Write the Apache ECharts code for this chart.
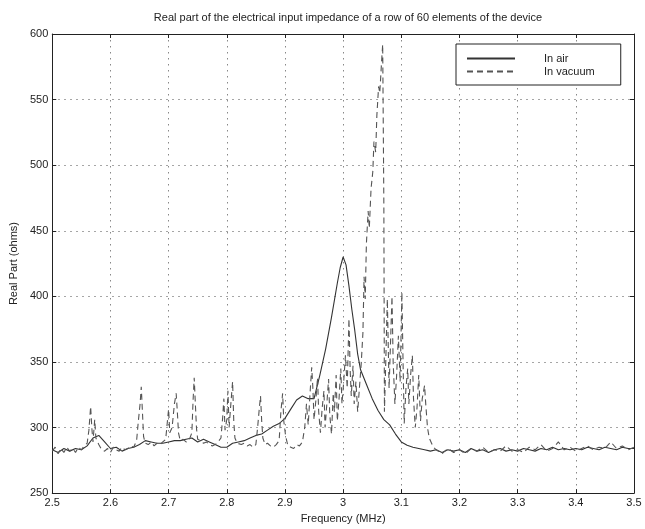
<!DOCTYPE html>
<html>
<head>
<meta charset="utf-8">
<script src="https://cdn.jsdelivr.net/npm/echarts@6/dist/echarts.min.js"></script>
<style>
    html, body { margin: 0; padding: 0; background: #fff; }
    #main { width: 645px; height: 529px; }
</style>
</head>
<body>
<div id="main"></div>
<script>
// In air (solid)
var airFreq = [2.50, 2.51, 2.52, 2.53, 2.54, 2.55, 2.56, 2.57, 2.58, 2.59,
    2.60, 2.61, 2.62, 2.63, 2.64, 2.65, 2.66, 2.67, 2.68, 2.69,
    2.70, 2.71, 2.72, 2.73, 2.74, 2.75, 2.76, 2.77, 2.78, 2.79,
    2.80, 2.81, 2.82, 2.83, 2.84, 2.85, 2.86, 2.87, 2.88, 2.89,
    2.90, 2.91, 2.92, 2.93, 2.94, 2.95, 2.96, 2.97, 2.98, 2.99, 2.995,
    3.00, 3.005, 3.01, 3.015, 3.02, 3.025, 3.03, 3.04, 3.05, 3.06, 3.07, 3.08, 3.09,
    3.10, 3.11, 3.12, 3.13, 3.14, 3.15, 3.16, 3.17, 3.18, 3.19,
    3.20, 3.21, 3.22, 3.23, 3.24, 3.25, 3.26, 3.27, 3.28, 3.29,
    3.30, 3.31, 3.32, 3.33, 3.34, 3.35, 3.36, 3.37, 3.38, 3.39,
    3.40, 3.41, 3.42, 3.43, 3.44, 3.45, 3.46, 3.47, 3.48, 3.49, 3.50];
var airReal = [283, 281, 284, 282, 284, 283, 286, 292, 294, 289,
    284, 285, 282, 284, 285, 287, 290, 289, 288, 288,
    289, 290, 290, 291, 292, 289, 291, 289, 287, 285,
    285, 288, 289, 290, 292, 294, 295, 298, 301, 303,
    307, 314, 321, 324, 322, 322, 340, 360, 384, 410, 422,
    430, 424, 408, 390, 374, 356, 344, 333, 322, 313, 306, 302, 295,
    289, 286.5, 285, 284, 283, 282, 283, 281, 283, 282,
    283, 281, 284, 282, 283, 281, 283, 284, 282, 283,
    282, 284, 283, 282, 284, 283, 285, 283, 284, 283,
    284, 283, 285, 284, 283, 285, 284, 283, 285, 284, 284];

// In vacuum (dashed)
var vacFreq = [2.500, 2.505, 2.510, 2.515, 2.520, 2.525, 2.530, 2.535, 2.540, 2.545,
    2.550, 2.555, 2.560, 2.563, 2.566, 2.568, 2.570, 2.573, 2.575, 2.580,
    2.585, 2.590, 2.595, 2.600, 2.605, 2.610, 2.615, 2.620, 2.625, 2.630,
    2.635, 2.640, 2.645, 2.648, 2.651, 2.653, 2.655, 2.657, 2.660, 2.665,
    2.670, 2.675, 2.680, 2.685, 2.690, 2.695, 2.698, 2.700, 2.702, 2.706,
    2.710, 2.713, 2.715, 2.717, 2.720, 2.725, 2.730, 2.735, 2.740, 2.742,
    2.744, 2.746, 2.748, 2.750, 2.755, 2.760, 2.765, 2.770, 2.775, 2.780,
    2.785, 2.790, 2.793, 2.795, 2.797, 2.800, 2.802, 2.804, 2.807, 2.810,
    2.812, 2.814, 2.818, 2.825, 2.830, 2.835, 2.840, 2.845, 2.850, 2.853,
    2.856, 2.858, 2.860, 2.862, 2.866, 2.870, 2.875, 2.880, 2.885, 2.890,
    2.893, 2.896, 2.898, 2.901, 2.905, 2.910, 2.915, 2.920, 2.925, 2.930,
    2.934, 2.937, 2.940, 2.943, 2.946, 2.948, 2.950, 2.953, 2.956, 2.958,
    2.961, 2.964, 2.967, 2.969, 2.972, 2.975, 2.977, 2.980, 2.983, 2.985,
    2.988, 2.990, 2.993, 2.996, 2.998, 3.001, 3.004, 3.007, 3.010, 3.012,
    3.014, 3.017, 3.019, 3.022, 3.025, 3.028, 3.031, 3.034, 3.036, 3.038,
    3.040, 3.043, 3.045, 3.048, 3.051, 3.053, 3.056, 3.058, 3.061, 3.063,
    3.066, 3.068, 3.070, 3.071, 3.073, 3.076, 3.079, 3.082, 3.084, 3.086,
    3.089, 3.092, 3.095, 3.098, 3.101, 3.103, 3.105, 3.108, 3.111, 3.113,
    3.116, 3.119, 3.121, 3.124, 3.127, 3.130, 3.133, 3.136, 3.140, 3.142,
    3.145, 3.148, 3.152, 3.155, 3.16, 3.17, 3.18, 3.19, 3.20, 3.21,
    3.22, 3.23, 3.24, 3.25, 3.26, 3.27, 3.28, 3.29, 3.30, 3.31,
    3.32, 3.33, 3.34, 3.35, 3.36, 3.37, 3.38, 3.39, 3.40, 3.41,
    3.42, 3.43, 3.44, 3.45, 3.46, 3.47, 3.48, 3.49, 3.50];
var vacReal = [282, 285, 280, 284, 281, 285, 282, 284, 281, 285,
    283, 286, 288, 298, 316, 300, 289, 306, 292, 287,
    283, 282, 284, 281, 285, 283, 282, 285, 283, 284,
    286, 285, 290, 305, 318, 331, 312, 293, 288, 287,
    289, 286, 288, 287, 289, 291, 305, 314, 296, 300,
    318, 326, 312, 296, 290, 291, 289, 290, 296, 320,
    338, 318, 299, 291, 290, 288, 289, 287, 286, 287,
    289, 292, 308, 322, 298, 306, 328, 300, 318, 335,
    305, 292, 288, 287, 288, 286, 287, 285, 287, 300,
    315, 324, 305, 292, 287, 288, 286, 285, 287, 290,
    312, 326, 305, 294, 286, 285, 284, 287, 286, 289,
    300, 318, 302, 325, 346, 330, 306, 320, 338, 312,
    296, 315, 328, 300, 318, 337, 310, 295, 326, 312,
    340, 305, 322, 345, 318, 335, 355, 330, 383, 345,
    324, 347, 318, 335, 312, 330, 348, 372, 415, 398,
    440, 465, 452, 482, 495, 518, 510, 538, 560, 555,
    578, 592, 470, 312, 345, 398, 330, 372, 400, 350,
    318, 340, 370, 335, 403, 350, 303, 330, 345, 318,
    340, 355, 322, 300, 315, 340, 305, 322, 332, 318,
    300, 292, 288, 285, 283, 280, 284, 281, 283, 280,
    284, 282, 285, 281, 283, 282, 286, 282, 283, 281,
    285, 283, 287, 282, 284, 289, 283, 285, 282, 284,
    286, 283, 285, 284, 289, 284, 286, 283, 285];

var xTicks = { min: 2.5, max: 3.5, step: 0.1 };
var yTicks = { min: 250, max: 600, step: 50 };

function pairs(xs, ys) {
    var out = [];
    for (var i = 0; i < xs.length; i++) {
        out.push([xs[i], ys[i]]);
    }
    return out;
}

var font = 'Liberation Sans, Arial, Helvetica, sans-serif';
var axisColor = '#222';
var gridLine = { show: true, lineStyle: { color: '#888', type: [1.5, 4.5], width: 1 } };

var myChart = echarts.init(document.getElementById('main'));
var option = {
    animation: false,
    backgroundColor: '#fff',
    title: {
        text: 'Real part of the electrical input impedance of a row of 60 elements of the device',
        left: 343,
        textAlign: 'center',
        top: 7,
        textStyle: { fontFamily: font, fontSize: 11, fontWeight: 'normal', color: '#222' }
    },
    legend: {
        orient: 'vertical',
        left: 456,
        top: 44,
        padding: [9, 26, 8, 10],
        itemWidth: 48,
        itemHeight: 10,
        itemGap: 2,
        borderColor: '#222',
        borderWidth: 1,
        backgroundColor: '#fff',
        itemStyle: { opacity: 0 },
        textStyle: { fontFamily: font, fontSize: 11, color: '#222', padding: [0, 0, 0, 24] },
        data: ['In air', 'In vacuum']
    },
    grid: { left: 50, right: 11, top: 34, bottom: 34 },
    xAxis: [{
        type: 'value',
        min: xTicks.min,
        max: xTicks.max,
        interval: xTicks.step,
        name: 'Frequency (MHz)',
        nameLocation: 'middle',
        nameGap: 19,
        nameTextStyle: { fontFamily: font, fontSize: 11, color: '#222' },
        axisLine: { show: true, lineStyle: { color: axisColor } },
        axisTick: { show: true, inside: true, length: 4, lineStyle: { color: axisColor } },
        axisLabel: { fontFamily: font, fontSize: 11, color: '#222', margin: 4 },
        splitLine: gridLine
    }, {
        type: 'value',
        position: 'top',
        min: xTicks.min,
        max: xTicks.max,
        interval: xTicks.step,
        axisLine: { show: true, lineStyle: { color: axisColor } },
        axisTick: { show: true, inside: true, length: 4, lineStyle: { color: axisColor } },
        axisLabel: { show: false },
        splitLine: { show: false }
    }],
    yAxis: [{
        type: 'value',
        min: yTicks.min,
        max: yTicks.max,
        interval: yTicks.step,
        name: 'Real Part (ohms)',
        nameLocation: 'middle',
        nameGap: 30,
        nameTextStyle: { fontFamily: font, fontSize: 11, color: '#222' },
        axisLine: { show: true, lineStyle: { color: axisColor } },
        axisTick: { show: true, inside: true, length: 4, lineStyle: { color: axisColor } },
        axisLabel: { fontFamily: font, fontSize: 11, color: '#222', margin: 4 },
        splitLine: gridLine
    }, {
        type: 'value',
        position: 'right',
        min: yTicks.min,
        max: yTicks.max,
        interval: yTicks.step,
        axisLine: { show: true, lineStyle: { color: axisColor } },
        axisTick: { show: true, inside: true, length: 4, lineStyle: { color: axisColor } },
        axisLabel: { show: false },
        splitLine: { show: false }
    }],
    series: [{
        name: 'In air',
        type: 'line',
        symbol: 'none',
        lineStyle: { color: '#333', width: 1.1 },
        itemStyle: { color: '#333' },
        data: pairs(airFreq, airReal)
    }, {
        name: 'In vacuum',
        type: 'line',
        symbol: 'none',
        lineStyle: { color: '#555', width: 1.1, type: [6, 4] },
        itemStyle: { color: '#555' },
        data: pairs(vacFreq, vacReal)
    }]
};
myChart.setOption(option);
</script>
</body>
</html>
